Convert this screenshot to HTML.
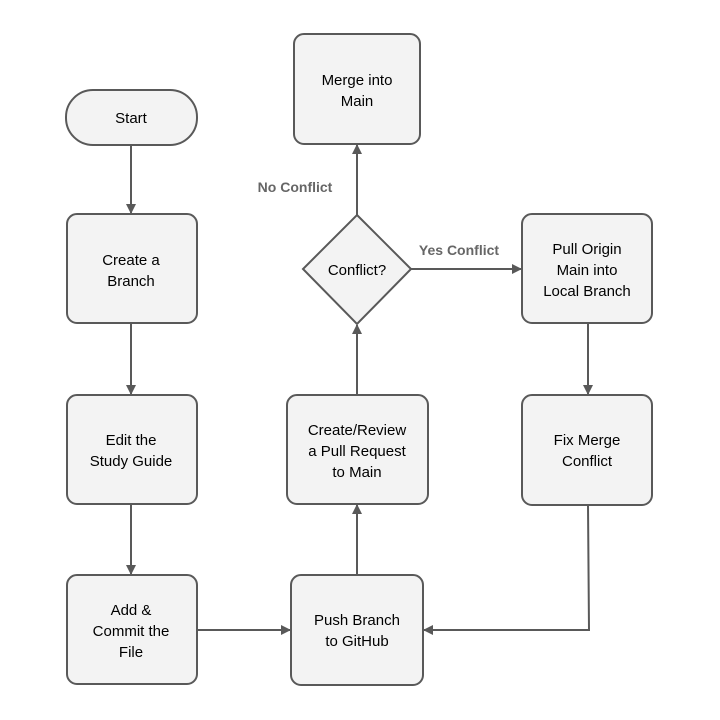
<!DOCTYPE html>
<html><head><meta charset="utf-8"><style>
html,body{margin:0;padding:0;background:#fff;}
svg{display:block;}
text{font-family:"Liberation Sans",Arial,sans-serif;font-size:15px;fill:#000;text-anchor:middle;}
.lbl{font-weight:bold;fill:#666;font-size:14px;}
</style></head><body>
<svg width="720" height="720" viewBox="0 0 720 720" xmlns="http://www.w3.org/2000/svg">
<defs><marker id="a" markerWidth="10" markerHeight="10" refX="9" refY="5" orient="auto" markerUnits="userSpaceOnUse"><path d="M0,0 L10,5 L0,10 z" fill="#595959"/></marker></defs>
<g stroke="#595959" stroke-width="2" fill="none">
<line x1="131" y1="145" x2="131" y2="213" marker-end="url(#a)"/>
<line x1="131" y1="323" x2="131" y2="394" marker-end="url(#a)"/>
<line x1="131" y1="504" x2="131" y2="574" marker-end="url(#a)"/>
<line x1="197" y1="630" x2="290" y2="630" marker-end="url(#a)"/>
<line x1="357" y1="575" x2="357" y2="505" marker-end="url(#a)"/>
<line x1="357" y1="395" x2="357" y2="325" marker-end="url(#a)"/>
<line x1="357" y1="215" x2="357" y2="145" marker-end="url(#a)"/>
<line x1="411" y1="269" x2="521" y2="269" marker-end="url(#a)"/>
<line x1="588" y1="323" x2="588" y2="394" marker-end="url(#a)"/>
<polyline points="588,505 589,630 424,630" marker-end="url(#a)"/>
</g>
<g fill="#f3f3f3" stroke="#595959" stroke-width="2">
<rect x="66" y="90" width="131" height="55" rx="27"/>
<rect x="67" y="214" width="130" height="109" rx="10"/>
<rect x="67" y="395" width="130" height="109" rx="10"/>
<rect x="67" y="575" width="130" height="109" rx="10"/>
<rect x="291" y="575" width="132" height="110" rx="10"/>
<rect x="287" y="395" width="141" height="109" rx="10"/>
<rect x="294" y="34" width="126" height="110" rx="10"/>
<rect x="522" y="214" width="130" height="109" rx="10"/>
<rect x="522" y="395" width="130" height="110" rx="10"/>
<polygon points="357,215 411,269 357,324 303,269"/>
</g>
<text x="131" y="123">Start</text>
<text x="131" y="265">Create a</text><text x="131" y="286">Branch</text>
<text x="131" y="445">Edit the</text><text x="131" y="466">Study Guide</text>
<text x="131" y="615">Add &amp;</text><text x="131" y="636">Commit the</text><text x="131" y="657">File</text>
<text x="357" y="625">Push Branch</text><text x="357" y="646">to GitHub</text>
<text x="357" y="435">Create/Review</text><text x="357" y="456">a Pull Request</text><text x="357" y="477">to Main</text>
<text x="357" y="85">Merge into</text><text x="357" y="106">Main</text>
<text x="357" y="275">Conflict?</text>
<text x="587" y="254">Pull Origin</text><text x="587" y="275">Main into</text><text x="587" y="296">Local Branch</text>
<text x="587" y="445">Fix Merge</text><text x="587" y="466">Conflict</text>
<text class="lbl" x="295" y="192">No Conflict</text>
<text class="lbl" x="459" y="255">Yes Conflict</text>
</svg>
</body></html>
